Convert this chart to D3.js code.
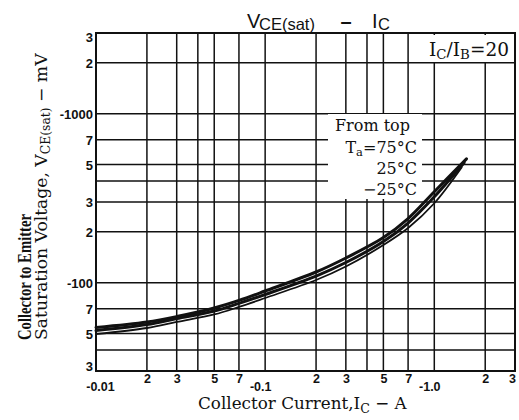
<!DOCTYPE html>
<html lang="en">
<head>
    <meta charset="UTF-8">
    <title>VCE(sat) - IC</title>
    <style>
        body { margin: 0; background: #fff; }
        svg { display: block; }
        .tick text { font-family: "Liberation Sans", Arial, sans-serif; font-weight: bold; fill: #111; }
        .serif { font-family: "DejaVu Serif", "Liberation Serif", serif; fill: #111; }
    </style>
    <script src="https://cdn.jsdelivr.net/npm/d3@7"></script>
</head>
<body>
    <svg id="chart" width="519" height="420"></svg>

    <script>
        // Collector current (A) and saturation voltage (mV)
        const current = [0.01, 0.02, 0.03, 0.05, 0.07, 0.1, 0.2, 0.3, 0.5, 0.7, 1.0];
        const vce75 = [54.3, 58.5, 63.0, 70.8, 78.5, 89.2, 115.6, 139.9, 184.9, 239.5, 345];
        const vce25 = [52.1, 56.5, 61.3, 67.9, 75.4, 85.1, 109.4, 131.5, 175.1, 225.3, 322];
        const vceM25 = [49.6, 53.9, 58.5, 64.8, 71.8, 81.1, 103.6, 124.5, 167.0, 210.6, 295];
        // where each curve stops at the top end
        const endCurrent = [1.55, 1.5, 1.45];
        const endVce = [540, 512, 480];
        const seriesNames = ["75°C", "25°C", "-25°C"];

        const xGrid = [0.02, 0.03, 0.04, 0.05, 0.07, 0.1, 0.2, 0.3, 0.4, 0.5, 0.7, 1, 2];
        const yGrid = [40, 50, 70, 100, 200, 300, 400, 500, 700, 1000, 2000];
        const xTickValues = [0.01, 0.02, 0.03, 0.05, 0.07, 0.1, 0.2, 0.3, 0.5, 0.7, 1, 2, 3];
        const xTickLabels = ["-0.01", "2", "3", "5", "7", "-0.1", "2", "3", "5", "7", "-1.0", "2", "3"];
        const yTickValues = [30, 50, 70, 100, 200, 300, 500, 700, 1000, 2000, 3000];
        const yTickLabels = ["3", "5", "7", "-100", "2", "3", "5", "7", "-1000", "2", "3"];

        const svg = d3.select("#chart");
        const plotL = 96, plotR = 515, plotT = 33, plotB = 371;

        const x = d3.scaleLog().domain([0.01, 3]).range([plotL, plotR]);
        const y = d3.scaleLog().domain([30, 3000]).range([plotB, plotT]);

        // grid
        const grid = svg.append("g").attr("stroke", "#111").attr("stroke-width", 1.5);
        grid.selectAll("line.v").data(xGrid).join("line")
            .attr("x1", d => x(d)).attr("x2", d => x(d))
            .attr("y1", plotT).attr("y2", plotB);
        grid.selectAll("line.h").data(yGrid).join("line")
            .attr("y1", d => y(d)).attr("y2", d => y(d))
            .attr("x1", plotL).attr("x2", plotR);

        // white boxes that break the grid behind the notes
        svg.append("rect").attr("x", 425).attr("y", plotT + 2).attr("width", plotR - 426).attr("height", 27).attr("fill", "#fff");
        svg.append("rect").attr("x", 328).attr("y", 114).attr("width", 94).attr("height", 85).attr("fill", "#fff");

        // frame
        svg.append("rect")
            .attr("x", plotL).attr("y", plotT)
            .attr("width", plotR - plotL).attr("height", plotB - plotT)
            .attr("fill", "none").attr("stroke", "#111").attr("stroke-width", 2);

        // curves
        const series = [vce75, vce25, vceM25].map((vals, k) => ({
            name: seriesNames[k],
            points: current.map((c, i) => [c, vals[i]]).concat([[endCurrent[k], endVce[k]]])
        }));
        const line = d3.line()
            .x(d => x(d[0]))
            .y(d => y(d[1]))
            .curve(d3.curveCatmullRom.alpha(0.5));
        svg.append("g").selectAll("path").data(series).join("path")
            .attr("d", d => line(d.points))
            .attr("fill", "none")
            .attr("stroke", "#111")
            .attr("stroke-linecap", "round")
            .attr("stroke-width", (d, i) => i < 2 ? 3 : 1.8);

        // axes
        const xAxis = svg.append("g")
            .attr("transform", `translate(0,${plotB})`)
            .call(d3.axisBottom(x).tickValues(xTickValues)
                .tickFormat((d, i) => xTickLabels[i]).tickSize(0));
        xAxis.select(".domain").remove();
        xAxis.selectAll(".tick text")
            .attr("font-size", 12.5)
            .attr("dy", 0)
            .attr("y", (d, i) => xTickLabels[i].startsWith("-") ? 19.5 : 12)
            .attr("dx", (d, i) => i === 0 ? 4 : xTickLabels[i].startsWith("-") ? -5 : i === xTickLabels.length - 1 ? -3 : 0);

        const yAxis = svg.append("g")
            .attr("transform", `translate(${plotL},0)`)
            .call(d3.axisLeft(y).tickValues(yTickValues)
                .tickFormat((d, i) => yTickLabels[i]).tickSize(0).tickPadding(3));
        yAxis.select(".domain").remove();
        yAxis.selectAll(".tick text")
            .attr("font-size", 13)
            .attr("dy", (d, i) => i === 0 ? "-0.05em" : i === yTickLabels.length - 1 ? "0.65em" : "0.35em");

        function fitWidth(t, target) {
            const w = t.node().getBBox().width;
            t.attr("font-size", parseFloat(t.attr("font-size")) * target / w);
        }

        // title
        const title = svg.append("g").attr("font-family", "'Liberation Sans', Arial, sans-serif").attr("fill", "#111");
        title.append("text").attr("x", 247).attr("y", 28.3).attr("font-size", 20).text("V");
        title.append("text").attr("x", 259).attr("y", 29.5).attr("font-size", 16.5).text("CE(sat)");
        title.append("text").attr("x", 346).attr("y", 28.3).attr("font-size", 20).attr("font-weight", "bold")
            .attr("text-anchor", "middle").text("\u2013");
        title.append("text").attr("x", 372).attr("y", 28.3).attr("font-size", 20).text("I");
        title.append("text").attr("x", 378).attr("y", 29.5).attr("font-size", 16.5).text("C");

        // x title
        const xt = svg.append("text").attr("class", "serif").attr("x", 198).attr("y", 409).attr("font-size", 15);
        xt.append("tspan").text("Collector Current,I");
        xt.append("tspan").attr("font-size", "0.75em").attr("dy", 4).text("C");
        xt.append("tspan").attr("dy", -4).text(" \u2212 A");
        fitWidth(xt, 209);

        // y title (two lines)
        const yt2 = svg.append("text").attr("class", "serif")
            .attr("transform", "translate(47,340) rotate(-90)").attr("font-size", 15);
        yt2.append("tspan").text("Saturation Voltage, V");
        yt2.append("tspan").attr("font-size", "0.72em").attr("dy", 3).text("CE(sat)");
        yt2.append("tspan").attr("dy", -3).text(" \u2212 mV");
        fitWidth(yt2, 288);
        svg.append("text")
            .attr("transform", "translate(31,340) rotate(-90)")
            .attr("font-family", "'Liberation Serif', serif").attr("font-weight", "bold").attr("fill", "#111")
            .attr("font-size", +yt2.attr("font-size") + 2.5)
            .attr("textLength", 126).attr("lengthAdjust", "spacingAndGlyphs")
            .text("Collector to Emitter");

        // notes
        const ratio = svg.append("text").attr("class", "serif").attr("x", 429).attr("y", 56).attr("font-size", 16);
        ratio.append("tspan").text("I");
        ratio.append("tspan").attr("font-size", "0.72em").attr("dy", 3).text("C");
        ratio.append("tspan").attr("dy", -3).text("/I");
        ratio.append("tspan").attr("font-size", "0.72em").attr("dy", 3).text("B");
        ratio.append("tspan").attr("dy", -3).text("=20");
        fitWidth(ratio, 80);

        const fromTop = svg.append("text").attr("class", "serif").attr("x", 335).attr("y", 131).attr("font-size", 16).text("From top");
        fitWidth(fromTop, 75);
        const noteSize = fromTop.attr("font-size");
        const ta = svg.append("text").attr("class", "serif").attr("x", 417).attr("y", 152.5)
            .attr("font-size", noteSize).attr("text-anchor", "end");
        ta.append("tspan").text("T");
        ta.append("tspan").attr("font-size", "0.72em").attr("dy", 3).text("a");
        ta.append("tspan").attr("dy", -3).text("=75°C");
        svg.append("text").attr("class", "serif").attr("x", 417).attr("y", 174)
            .attr("font-size", noteSize).attr("text-anchor", "end").text("25°C");
        svg.append("text").attr("class", "serif").attr("x", 417).attr("y", 195)
            .attr("font-size", noteSize).attr("text-anchor", "end").text("\u221225°C");
    </script>
</body>
</html>
